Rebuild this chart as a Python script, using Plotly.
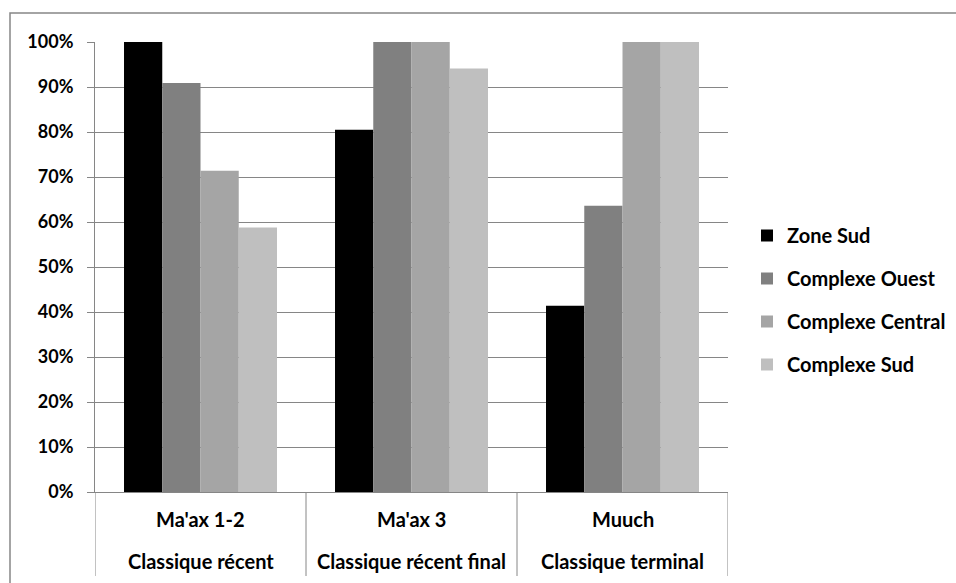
import plotly.graph_objects as go

periods = ["Classique récent", "Classique récent final", "Classique terminal"]
phases = ["Ma'ax 1-2", "Ma'ax 3", "Muuch"]
series_names = ["Zone Sud", "Complexe Ouest", "Complexe Central", "Complexe Sud"]
zone_sud = [1.00, 0.805, 0.414]
complexe_ouest = [0.909, 1.00, 0.636]
complexe_central = [0.714, 1.00, 1.00]
complexe_sud = [0.588, 0.941, 1.00]
colors = ["#000000", "#808080", "#a5a5a5", "#bfbfbf"]

values = [zone_sud, complexe_ouest, complexe_central, complexe_sud]

FAM = "Lato, Open Sans, sans-serif"
FONT = dict(family=FAM, size=20, color="#000000", weight=700)
TICKFONT = dict(family=FAM, size=18, color="#000000", weight=700)
GRAY = "#868686"

fig = go.Figure()
for name, vals, col in zip(series_names, values, colors):
    fig.add_trace(go.Bar(
        x=phases, y=vals, name=name, legendgroup=name,
        marker=dict(color=col, line=dict(width=0)),
    ))

W, H = 956, 583
L, R, T, B = 95, 228, 42, 91
pw, ph = W - L - R, H - T - B

fig.update_layout(
    width=W, height=H,
    margin=dict(l=L, r=R, t=T, b=B, autoexpand=False),
    paper_bgcolor="white", plot_bgcolor="white",
    barmode="group", bargap=0.275, bargroupgap=0,
    font=FONT,
    showlegend=True,
    legend=dict(x=(747 - L) / pw, xanchor="left", y=(H - B - 300) / ph, yanchor="middle",
                font=FONT, tracegroupgap=14, bgcolor="rgba(0,0,0,0)"),
    xaxis=dict(type="category", showticklabels=False, ticks="", showgrid=False,
               showline=True, linecolor=GRAY, linewidth=1, range=[-0.5, len(phases) - 0.5],
               fixedrange=True),
    yaxis=dict(range=[0, 1], dtick=0.1, tickformat=".0%", showgrid=True, gridcolor=GRAY,
               gridwidth=1, showline=True, linecolor=GRAY, linewidth=1,
               ticks="outside", ticklen=7, tickcolor=GRAY, tickfont=TICKFONT,
               ticklabelstandoff=10, zeroline=False, fixedrange=True),
)

# two-level category labels
for ph_name, per_name in zip(phases, periods):
    fig.add_annotation(x=ph_name, y=-(519 - (H - B)) / ph, xref="x", yref="paper",
                       text=ph_name, showarrow=False, font=FONT, yanchor="middle")
    fig.add_annotation(x=ph_name, y=-(561 - (H - B)) / ph, xref="x", yref="paper",
                       text=per_name, showarrow=False, font=FONT, yanchor="middle")

# category dividers
for i in range(len(phases) + 1):
    fig.add_shape(type="line", xref="x", yref="paper", x0=i - 0.5, x1=i - 0.5,
                  y0=0, y1=-(576 - (H - B)) / ph, line=dict(color=GRAY, width=1))

# outer chart border
fig.add_shape(type="rect", xref="paper", yref="paper",
              x0=(10 - L) / pw, x1=(W + 20 - L) / pw,
              y0=-(H + 20 - (H - B)) / ph, y1=1 + (T - 13) / ph,
              line=dict(color=GRAY, width=1.5), fillcolor="rgba(0,0,0,0)", layer="below")

fig.write_html("out.html", config={"displayModeBar": False},
               post_script="document.body.style.margin='0';document.body.style.overflow='hidden';")
